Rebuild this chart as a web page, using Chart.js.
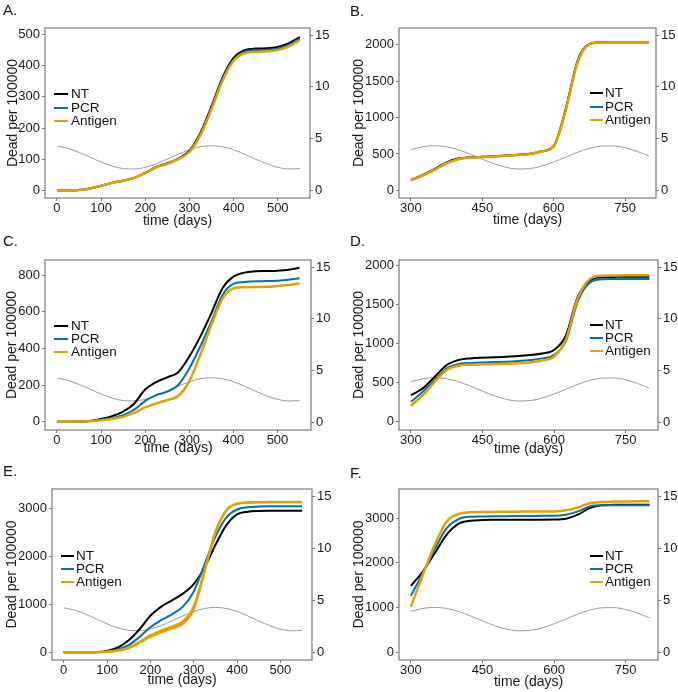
<!DOCTYPE html>
<html>
<head>
<meta charset="utf-8">
<script src="https://cdn.jsdelivr.net/npm/chart.js@4.4.1/dist/chart.umd.min.js"></script>
<style>
  html, body { margin: 0; padding: 0; background: #fff; }
  #figure { position: relative; width: 678px; height: 692px; overflow: hidden; font-family: "Liberation Sans", Arial, sans-serif; }
  #figure canvas { position: absolute; }
  .panel-tag { position: absolute; font-size: 15px; line-height: 18px; color: #111; }
  .leg-line { position: absolute; height: 2px; }
  .leg-text { position: absolute; font-size: 13.5px; line-height: 16px; color: #111; white-space: nowrap; }
</style>
</head>
<body>
<div id="figure"></div>
<script>
const seriesNames = ['NT', 'PCR', 'Antigen'];
const seriesColors = ['#000000', '#0072B2', '#E69F00'];
const seriesWidths = [2, 2, 2.5];

// time (days)
const daysEarly = [0, 25, 50, 75, 100, 125, 150, 175, 200, 225, 250, 275, 300, 325, 350, 375, 400, 425, 450, 475, 500, 525, 550];
const daysLate = [300, 325, 350, 375, 400, 425, 450, 475, 500, 525, 550, 575, 600, 625, 650, 675, 700, 725, 750, 775, 800];

const xTicksEarly = [0, 100, 200, 300, 400, 500];
const xTicksLate = [300, 450, 600, 750];
const rightTicks = [0, 5, 10, 15];

// grey seasonal curve (right axis)
const seasonEarly = [4.27, 4.05, 3.67, 3.20, 2.73, 2.34, 2.10, 2.06, 2.22, 2.56, 3.01, 3.49, 3.92, 4.21, 4.31, 4.21, 3.92, 3.49, 3.01, 2.56, 2.22, 2.06, 2.10];
const seasonLate = [3.92, 4.21, 4.31, 4.21, 3.92, 3.49, 3.01, 2.56, 2.22, 2.06, 2.10, 2.34, 2.73, 3.20, 3.67, 4.05, 4.27, 4.29, 4.11, 3.76, 3.30];

// A.
const aNT = [0, 0, 1, 6, 15, 24, 31, 40, 56, 75, 87, 102, 127, 185, 270, 362, 425, 450, 455, 456, 460, 472, 492];
const aPCR = [0, 0, 1, 6, 15, 24, 31, 40, 56, 75, 86, 101, 125, 181, 265, 357, 420, 445, 450, 451, 455, 467, 487];
const aAntigen = [0, 0, 1, 6, 15, 24, 31, 40, 56, 74, 85, 100, 123, 177, 260, 352, 415, 440, 444, 446, 450, 462, 482];
// B.
const bNT = [140, 212, 292, 385, 436, 452, 460, 468, 478, 488, 501, 538, 608, 1110, 1775, 2010, 2032, 2033, 2033, 2033, 2033];
const bPCR = [137, 207, 286, 377, 431, 449, 458, 466, 476, 486, 499, 535, 604, 1095, 1762, 2006, 2032, 2033, 2033, 2033, 2033];
const bAntigen = [135, 204, 282, 372, 428, 447, 457, 465, 475, 485, 498, 534, 601, 1085, 1752, 2003, 2031, 2032, 2032, 2032, 2032];
// C.
const cNT = [0, 0, 1, 4, 15, 30, 55, 98, 175, 216, 242, 270, 355, 464, 591, 727, 791, 813, 820, 822, 824, 829, 840];
const cPCR = [0, 0, 1, 3, 10, 20, 36, 65, 113, 145, 164, 200, 290, 410, 545, 690, 752, 762, 766, 767, 769, 774, 782];
const cAntigen = [0, 0, 1, 2, 7, 15, 27, 48, 78, 100, 118, 140, 220, 364, 527, 669, 727, 733, 735, 736, 740, 745, 755];
// D.
const dNT = [340, 425, 574, 723, 787, 808, 817, 822, 830, 838, 851, 870, 915, 1100, 1600, 1800, 1842, 1848, 1851, 1851, 1851];
const dPCR = [255, 383, 532, 681, 736, 750, 757, 762, 766, 775, 787, 808, 851, 1030, 1540, 1775, 1817, 1820, 1821, 1821, 1821];
const dAntigen = [204, 340, 510, 660, 715, 727, 732, 736, 740, 747, 757, 780, 830, 1050, 1580, 1820, 1864, 1867, 1868, 1868, 1868];
// E.
const eNT = [0, 0, 0, 3, 30, 100, 250, 480, 760, 950, 1080, 1220, 1420, 1760, 2230, 2640, 2870, 2925, 2940, 2945, 2945, 2945, 2945];
const ePCR = [0, 0, 0, 2, 18, 60, 150, 320, 520, 670, 790, 950, 1260, 1830, 2400, 2800, 2970, 3015, 3030, 3035, 3035, 3035, 3035];
const eAntigen = [0, 0, 0, 1, 10, 35, 95, 215, 350, 450, 535, 640, 950, 1700, 2500, 2950, 3090, 3115, 3122, 3125, 3125, 3125, 3125];
const eAntigenAlt = [0, 0, 0, 1, 9, 32, 88, 195, 320, 410, 495, 590, 880, 1670, 2480, 2945, 3088, 3114, 3122, 3125, 3125, 3125, 3125];
// F.
const fNT = [1485, 1806, 2216, 2627, 2873, 2940, 2955, 2960, 2963, 2963, 2963, 2963, 2965, 2985, 3075, 3224, 3284, 3295, 3299, 3299, 3299];
const fPCR = [1261, 1769, 2306, 2776, 2978, 3030, 3037, 3040, 3042, 3045, 3047, 3050, 3052, 3075, 3149, 3261, 3285, 3285, 3285, 3285, 3285];
const fAntigen = [1022, 1731, 2403, 2925, 3090, 3127, 3134, 3137, 3140, 3142, 3145, 3147, 3149, 3172, 3239, 3329, 3358, 3368, 3372, 3373, 3373];

const leftLegend = { lineX: 54, lineW: 14, textX: 71 };
const rightLegend = { lineX: 590, lineW: 13, textX: 605 };

const panels = [
    { tag: 'A.', tagX: 3, tagY: 10, days: daysEarly, season: seasonEarly, series: [aNT, aPCR, aAntigen], extra: [],
      xRange: [-27, 573], xTicks: xTicksEarly, yRange: [-24.6, 521], yTicks: [0, 100, 200, 300, 400, 500],
      x0: 0, y0: 0, w: 339, h: 231, area: [45, 28, 310, 198], yTitleX: 13.5, xTitleY: 221,
      legend: { ...leftLegend, rows: [94, 107.5, 121] } },
    { tag: 'B.', tagX: 350, tagY: 11, days: daysLate, season: seasonLate, series: [bNT, bPCR, bAntigen], extra: [],
      xRange: [275, 815], xTicks: xTicksLate, yRange: [-105, 2229], yTicks: [0, 500, 1000, 1500, 2000],
      x0: 338, y0: 0, w: 340, h: 231, area: [399, 28, 656, 198], yTitleX: 359.5, xTitleY: 220,
      legend: { ...rightLegend, rows: [93, 107, 120] } },
    { tag: 'C.', tagX: 3, tagY: 240.5, days: daysEarly, season: seasonEarly, series: [cNT, cPCR, cAntigen], extra: [],
      xRange: [-27, 576], xTicks: xTicksEarly, yRange: [-45.5, 882], yTicks: [0, 200, 400, 600, 800],
      x0: 0, y0: 230, w: 339, h: 228, area: [45, 260, 311, 430], yTitleX: 12.5, xTitleY: 448,
      legend: { ...leftLegend, rows: [325.5, 338.5, 351.5] } },
    { tag: 'D.', tagX: 350, tagY: 240.5, days: daysLate, season: seasonLate, series: [dNT, dPCR, dAntigen], extra: [],
      xRange: [275, 818], xTicks: xTicksLate, yRange: [-106, 2064], yTicks: [0, 500, 1000, 1500, 2000],
      x0: 338, y0: 230, w: 340, h: 229, area: [399, 260, 658, 430], yTitleX: 359.5, xTitleY: 449,
      legend: { ...rightLegend, rows: [324.5, 337.5, 350.5] } },
    { tag: 'E.', tagX: 3, tagY: 471, days: daysEarly, season: seasonEarly, series: [eNT, ePCR, eAntigen], extra: [eAntigenAlt],
      xRange: [-27, 573], xTicks: xTicksEarly, yRange: [-160, 3396], yTicks: [0, 1000, 2000, 3000],
      x0: 0, y0: 462, w: 339, h: 228, area: [52, 489, 312, 660], yTitleX: 12.5, xTitleY: 680,
      legend: { lineX: 61, lineW: 13, textX: 76, rows: [556, 568.5, 581.5] } },
    { tag: 'F.', tagX: 350, tagY: 472.5, days: daysLate, season: seasonLate, series: [fNT, fPCR, fAntigen], extra: [],
      xRange: [275, 818], xTicks: xTicksLate, yRange: [-172, 3649], yTicks: [0, 1000, 2000, 3000],
      x0: 338, y0: 462, w: 340, h: 230, area: [399, 489, 658, 660], yTitleX: 359.5, xTitleY: 682,
      legend: { ...rightLegend, rows: [556, 568.5, 581.5] } }
];

const rightRange = [-0.75, 15.7];
const frameColor = '#7a7a7a';

Chart.defaults.font.family = '"Liberation Sans", Arial, sans-serif';
Chart.defaults.color = '#1a1a1a';

const panelBorder = {
    id: 'panelBorder',
    afterDraw(chart) {
        const { ctx, chartArea: a } = chart;
        ctx.save();
        ctx.strokeStyle = frameColor;
        ctx.lineWidth = 1.2;
        ctx.strokeRect(a.left, a.top, a.right - a.left, a.bottom - a.top);
        ctx.restore();
    }
};

const fixedTicks = values => axis => { axis.ticks = values.map(v => ({ value: v })); };
const plainLabel = v => String(v);

function buildChart(p) {
    const canvas = document.createElement('canvas');
    canvas.width = p.w;
    canvas.height = p.h;
    canvas.style.left = `${p.x0}px`;
    canvas.style.top = `${p.y0}px`;
    document.getElementById('figure').appendChild(canvas);

    const [aL, aT, aR, aB] = p.area;
    const toPoints = vals => p.days.map((d, i) => ({ x: d, y: vals[i] }));

    const datasets = [
        { label: 'season', data: toPoints(p.season), yAxisID: 'y1', borderColor: '#9b9b9b', borderWidth: 1, order: 9 },
        ...p.extra.map(vals => ({ label: 'Antigen', data: toPoints(vals), yAxisID: 'y', borderColor: seriesColors[2], borderWidth: 2, order: 1 })),
        ...p.series.map((vals, i) => ({
            label: seriesNames[i], data: toPoints(vals), yAxisID: 'y',
            borderColor: seriesColors[i], borderWidth: seriesWidths[i], order: 3 - i
        }))
    ];

    const tickFont = { size: 13 };
    const grid = { display: true, drawOnChartArea: false, drawTicks: true, tickLength: 3, color: frameColor, lineWidth: 1 };

    return new Chart(canvas, {
        type: 'line',
        data: { datasets },
        plugins: [panelBorder],
        options: {
            responsive: false, animation: false, devicePixelRatio: 1,
            layout: { autoPadding: false, padding: { top: aT - p.y0, left: 0, right: 0, bottom: 0 } },
            elements: { point: { radius: 0 }, line: { cubicInterpolationMode: 'monotone', fill: false } },
            plugins: { legend: { display: false }, tooltip: { enabled: false } },
            scales: {
                x: {
                    type: 'linear', min: p.xRange[0], max: p.xRange[1],
                    afterBuildTicks: fixedTicks(p.xTicks),
                    afterFit: s => { s.height = p.y0 + p.h - aB; },
                    grid, border: { display: false },
                    ticks: { font: tickFont, padding: 0, maxRotation: 0, color: '#1a1a1a', callback: plainLabel },
                    title: { display: true, text: 'time (days)', font: { size: 14 }, color: '#1a1a1a',
                             padding: { top: 0, bottom: p.y0 + p.h - p.xTitleY - 8.4 } }
                },
                y: {
                    type: 'linear', position: 'left', min: p.yRange[0], max: p.yRange[1],
                    afterBuildTicks: fixedTicks(p.yTicks),
                    afterFit: s => { s.width = aL - p.x0; },
                    grid, border: { display: false },
                    ticks: { font: tickFont, padding: 2, color: '#1a1a1a', callback: plainLabel },
                    title: { display: true, text: 'Dead per 100000', font: { size: 14 }, color: '#1a1a1a',
                             padding: { top: p.yTitleX - p.x0 - 8.4, bottom: 0 } }
                },
                y1: {
                    type: 'linear', position: 'right', min: rightRange[0], max: rightRange[1],
                    afterBuildTicks: fixedTicks(rightTicks),
                    afterFit: s => { s.width = p.x0 + p.w - aR; },
                    grid, border: { display: false },
                    ticks: { font: tickFont, padding: 2, color: '#1a1a1a', callback: plainLabel }
                }
            }
        }
    });
}

function buildOverlay(p) {
    const fig = document.getElementById('figure');
    const tag = document.createElement('div');
    tag.className = 'panel-tag';
    tag.style.cssText = `left:${p.tagX}px;top:${p.tagY - 9}px`;
    tag.textContent = p.tag;
    fig.appendChild(tag);

    seriesNames.forEach((name, i) => {
        const y = p.legend.rows[i];
        const line = document.createElement('div');
        line.className = 'leg-line';
        line.style.cssText = `left:${p.legend.lineX}px;top:${y - 1}px;width:${p.legend.lineW}px;background:${seriesColors[i]}`;
        const txt = document.createElement('div');
        txt.className = 'leg-text';
        txt.style.cssText = `left:${p.legend.textX}px;top:${y - 8}px`;
        txt.textContent = name;
        fig.append(line, txt);
    });
}

panels.forEach(p => {
    buildChart(p);
    buildOverlay(p);
});
</script>
</body>
</html>
